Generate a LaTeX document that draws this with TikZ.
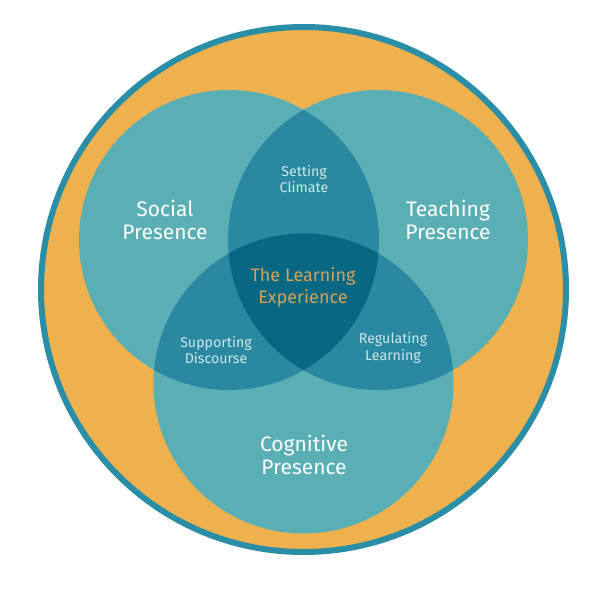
\documentclass[tikz,border=0pt]{standalone}
\usepackage{fontspec}
\setmainfont{Fira Sans}
\definecolor{ringteal}{HTML}{2A8FA6}
\definecolor{orangefill}{HTML}{EFB14E}
\definecolor{lightteal}{HTML}{5AAFB5}
\definecolor{midteal}{HTML}{2A89A0}
\definecolor{darkteal}{HTML}{086884}
\definecolor{goldtext}{HTML}{D4A257}
\definecolor{paletext}{HTML}{CDE8EC}
\tikzset{
  bigtext/.style={text=white, font=\fontsize{21}{23}\selectfont, align=center},
  smalltext/.style={text=paletext, font=\fontsize{14.2}{16.5}\selectfont, align=center},
  centertext/.style={text=goldtext, font=\fontsize{18}{22}\selectfont, align=center},
}
\begin{document}
\begin{tikzpicture}[x=1pt,y=-1pt]
\useasboundingbox (0,0) rectangle (600,600);
% outer circle
\fill[orangefill, draw=ringteal, line width=6pt] (303.5,289.5) circle (262.5);
% three circles
\coordinate (cs) at (229,240);
\coordinate (ct) at (378,240);
\coordinate (cc) at (303.5,383.5);
\fill[lightteal] (cs) circle (150);
\fill[lightteal] (ct) circle (150);
\fill[lightteal] (cc) circle (150);
% pairwise overlaps
\begin{scope}
  \clip (cs) circle (150);
  \fill[midteal] (ct) circle (150);
  \fill[midteal] (cc) circle (150);
\end{scope}
\begin{scope}
  \clip (ct) circle (150);
  \fill[midteal] (cc) circle (150);
\end{scope}
% triple overlap
\begin{scope}
  \clip (cs) circle (150);
  \clip (ct) circle (150);
  \fill[darkteal] (cc) circle (150);
\end{scope}
% labels
\node[bigtext] (social) at (165,220) {Social\\Presence};
\node[bigtext] (teaching) at (448,220) {Teaching\\Presence};
\node[bigtext] (cognitive) at (304,455) {Cognitive\\Presence};
\node[smalltext] (climate) at (304,179) {Setting\\Climate};
\node[smalltext] (discourse) at (216,350) {Supporting\\Discourse};
\node[smalltext] (regulating) at (393,348) {Regulating\\Learning};
\node[centertext] (experience) at (303,287) {The Learning\\Experience};
\end{tikzpicture}
\end{document}
